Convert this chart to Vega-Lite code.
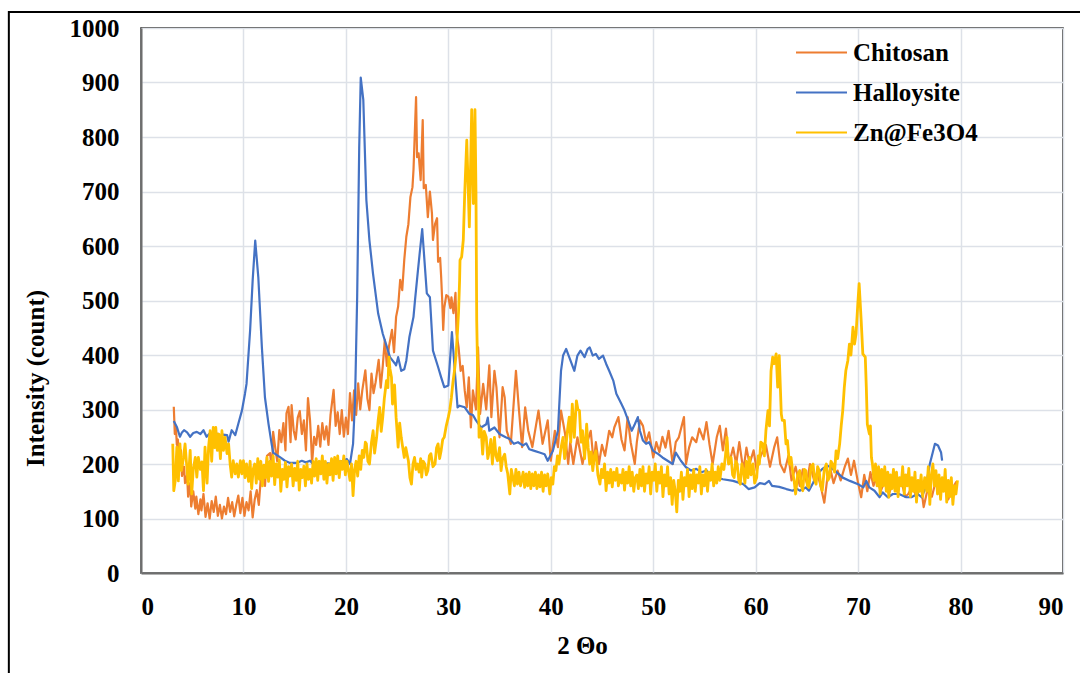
{
  "$schema": "https://vega.github.io/schema/vega-lite/v6.json",
  "width": 922,
  "height": 545,
  "autosize": {"type": "none"},
  "padding": {"left": 141, "top": 28, "right": 17, "bottom": 100},
  "background": "white",
  "config": {
    "view": {"stroke": "#1a1a1a", "strokeWidth": 1.5},
    "font": "Liberation Serif",
    "axis": {
      "grid": true,
      "gridColor": "#dde1e8",
      "gridWidth": 1.5,
      "ticks": false,
      "domainColor": "#6e6e6e",
      "domainWidth": 2,
      "labelFont": "Liberation Serif",
      "labelFontSize": 25,
      "labelFontWeight": "bold",
      "labelColor": "#000000",
      "titleFont": "Liberation Serif",
      "titleFontSize": 25,
      "titleFontWeight": "bold",
      "titleColor": "#000000"
    },
    "legend": {
      "labelFont": "Liberation Serif",
      "labelFontSize": 25,
      "labelFontWeight": "bold",
      "labelColor": "#000000"
    }
  },
  "datasets": {
    "chitosan": [
      {"x":3.2,"y":305},{"x":3.3,"y":255},{"x":3.4,"y":270},{"x":3.5,"y":235},{"x":3.6,"y":245},{"x":3.7,"y":212},{"x":3.9,"y":225},{"x":4.0,"y":178},{"x":4.2,"y":195},{"x":4.3,"y":165},{"x":4.5,"y":180},{"x":4.6,"y":140},{"x":4.8,"y":165},{"x":4.9,"y":122},{"x":5.1,"y":150},{"x":5.3,"y":118},{"x":5.4,"y":140},{"x":5.6,"y":108},{"x":5.8,"y":135},{"x":5.9,"y":115},{"x":6.1,"y":145},{"x":6.3,"y":103},{"x":6.5,"y":128},{"x":6.7,"y":100},{"x":6.9,"y":132},{"x":7.1,"y":112},{"x":7.3,"y":140},{"x":7.5,"y":105},{"x":7.7,"y":125},{"x":7.9,"y":100},{"x":8.1,"y":122},{"x":8.3,"y":108},{"x":8.5,"y":138},{"x":8.7,"y":112},{"x":8.9,"y":130},{"x":9.1,"y":104},{"x":9.3,"y":125},{"x":9.5,"y":142},{"x":9.7,"y":110},{"x":9.9,"y":138},{"x":10.1,"y":105},{"x":10.3,"y":130},{"x":10.5,"y":115},{"x":10.7,"y":150},{"x":10.9,"y":102},{"x":11.1,"y":135},{"x":11.3,"y":152},{"x":11.5,"y":125},{"x":11.7,"y":175},{"x":11.9,"y":189},{"x":12.1,"y":160},{"x":12.3,"y":215},{"x":12.6,"y":220},{"x":12.8,"y":185},{"x":12.9,"y":259},{"x":13.1,"y":230},{"x":13.3,"y":205},{"x":13.5,"y":262},{"x":13.7,"y":240},{"x":13.9,"y":275},{"x":14.1,"y":225},{"x":14.2,"y":293},{"x":14.4,"y":305},{"x":14.6,"y":240},{"x":14.7,"y":308},{"x":14.9,"y":262},{"x":15.1,"y":245},{"x":15.3,"y":285},{"x":15.5,"y":297},{"x":15.7,"y":255},{"x":15.9,"y":280},{"x":16.1,"y":225},{"x":16.3,"y":321},{"x":16.5,"y":280},{"x":16.6,"y":244},{"x":16.7,"y":202},{"x":16.9,"y":250},{"x":17.1,"y":235},{"x":17.3,"y":270},{"x":17.5,"y":232},{"x":17.7,"y":275},{"x":17.9,"y":245},{"x":18.1,"y":269},{"x":18.3,"y":235},{"x":18.5,"y":290},{"x":18.8,"y":336},{"x":19.0,"y":270},{"x":19.2,"y":295},{"x":19.4,"y":255},{"x":19.6,"y":299},{"x":19.8,"y":250},{"x":20.0,"y":285},{"x":20.2,"y":255},{"x":20.4,"y":330},{"x":20.6,"y":280},{"x":20.8,"y":335},{"x":21.0,"y":290},{"x":21.2,"y":348},{"x":21.4,"y":300},{"x":21.6,"y":335},{"x":21.9,"y":372},{"x":22.1,"y":320},{"x":22.3,"y":299},{"x":22.5,"y":366},{"x":22.7,"y":330},{"x":22.9,"y":350},{"x":23.2,"y":391},{"x":23.4,"y":340},{"x":23.6,"y":380},{"x":23.8,"y":428},{"x":24.0,"y":380},{"x":24.2,"y":415},{"x":24.5,"y":446},{"x":24.7,"y":405},{"x":24.9,"y":470},{"x":25.1,"y":489},{"x":25.3,"y":538},{"x":25.5,"y":519},{"x":25.7,"y":575},{"x":25.9,"y":617},{"x":26.1,"y":640},{"x":26.3,"y":690},{"x":26.5,"y":708},{"x":26.6,"y":740},{"x":26.85,"y":873},{"x":26.95,"y":763},{"x":27.1,"y":770},{"x":27.3,"y":721},{"x":27.5,"y":831},{"x":27.6,"y":706},{"x":27.8,"y":712},{"x":28.0,"y":653},{"x":28.2,"y":700},{"x":28.4,"y":660},{"x":28.5,"y":611},{"x":28.7,"y":640},{"x":28.9,"y":651},{"x":29.0,"y":571},{"x":29.2,"y":578},{"x":29.3,"y":543},{"x":29.4,"y":501},{"x":29.5,"y":446},{"x":29.6,"y":486},{"x":29.8,"y":510},{"x":30.0,"y":507},{"x":30.2,"y":486},{"x":30.3,"y":506},{"x":30.5,"y":477},{"x":30.7,"y":514},{"x":30.8,"y":440},{"x":31.0,"y":414},{"x":31.2,"y":371},{"x":31.4,"y":380},{"x":31.6,"y":335},{"x":31.8,"y":304},{"x":32.0,"y":359},{"x":32.2,"y":267},{"x":32.4,"y":335},{"x":32.7,"y":300},{"x":32.9,"y":414},{"x":33.1,"y":292},{"x":33.4,"y":347},{"x":33.7,"y":300},{"x":34.0,"y":381},{"x":34.2,"y":286},{"x":34.5,"y":371},{"x":34.7,"y":340},{"x":35.0,"y":249},{"x":35.3,"y":341},{"x":35.5,"y":322},{"x":35.7,"y":261},{"x":36.1,"y":237},{"x":36.6,"y":371},{"x":36.9,"y":298},{"x":37.2,"y":231},{"x":37.5,"y":304},{"x":37.8,"y":261},{"x":38.2,"y":231},{"x":38.8,"y":298},{"x":39.2,"y":237},{"x":39.7,"y":280},{"x":40.0,"y":206},{"x":40.4,"y":261},{"x":40.7,"y":231},{"x":41.0,"y":298},{"x":41.4,"y":255},{"x":41.7,"y":200},{"x":41.9,"y":240},{"x":42.2,"y":200},{"x":42.6,"y":249},{"x":43.1,"y":200},{"x":43.4,"y":230},{"x":43.9,"y":261},{"x":44.2,"y":200},{"x":44.4,"y":240},{"x":44.7,"y":200},{"x":45.0,"y":235},{"x":45.3,"y":215},{"x":45.7,"y":261},{"x":46.0,"y":249},{"x":46.2,"y":267},{"x":46.6,"y":286},{"x":46.9,"y":245},{"x":47.2,"y":225},{"x":47.5,"y":286},{"x":47.8,"y":240},{"x":48.2,"y":200},{"x":48.4,"y":240},{"x":48.7,"y":280},{"x":49.0,"y":270},{"x":49.3,"y":240},{"x":49.6,"y":258},{"x":50.0,"y":212},{"x":50.3,"y":240},{"x":50.6,"y":222},{"x":50.9,"y":250},{"x":51.2,"y":230},{"x":51.5,"y":261},{"x":51.9,"y":200},{"x":52.2,"y":240},{"x":52.5,"y":249},{"x":53.0,"y":286},{"x":53.2,"y":200},{"x":53.5,"y":230},{"x":53.8,"y":249},{"x":54.2,"y":240},{"x":54.5,"y":265},{"x":54.9,"y":245},{"x":55.2,"y":277},{"x":55.5,"y":235},{"x":55.8,"y":200},{"x":56.2,"y":249},{"x":56.5,"y":270},{"x":56.8,"y":225},{"x":57.1,"y":265},{"x":57.4,"y":200},{"x":57.8,"y":230},{"x":58.1,"y":200},{"x":58.4,"y":240},{"x":58.8,"y":188},{"x":59.1,"y":230},{"x":59.4,"y":200},{"x":59.8,"y":225},{"x":60.1,"y":188},{"x":60.5,"y":215},{"x":61.0,"y":235},{"x":61.4,"y":195},{"x":61.8,"y":230},{"x":62.1,"y":249},{"x":62.4,"y":200},{"x":62.8,"y":185},{"x":63.2,"y":215},{"x":63.5,"y":170},{"x":63.9,"y":195},{"x":64.3,"y":160},{"x":64.6,"y":190},{"x":65.0,"y":165},{"x":65.3,"y":200},{"x":65.7,"y":170},{"x":66.0,"y":185},{"x":66.4,"y":155},{"x":66.7,"y":129},{"x":67.0,"y":175},{"x":67.3,"y":190},{"x":67.6,"y":165},{"x":68.0,"y":188},{"x":68.3,"y":170},{"x":68.7,"y":195},{"x":69.0,"y":210},{"x":69.3,"y":180},{"x":69.6,"y":206},{"x":70.0,"y":165},{"x":70.3,"y":139},{"x":70.6,"y":180},{"x":70.9,"y":150},{"x":71.2,"y":185},{"x":71.5,"y":160},{"x":71.8,"y":175},{"x":72.2,"y":150},{"x":72.6,"y":170},{"x":73.0,"y":145},{"x":73.4,"y":165},{"x":73.8,"y":150},{"x":74.2,"y":170},{"x":74.6,"y":140},{"x":74.9,"y":145},{"x":75.3,"y":160},{"x":75.7,"y":140},{"x":76.1,"y":165},{"x":76.4,"y":121},{"x":76.8,"y":155},{"x":77.2,"y":140},{"x":77.6,"y":170},{"x":78.0,"y":145},{"x":78.4,"y":160},{"x":78.8,"y":135},{"x":79.2,"y":155},{"x":79.6,"y":168}
    ],
    "halloysite": [
      {"x":3.2,"y":279},{"x":3.5,"y":268},{"x":3.8,"y":250},{"x":4.0,"y":258},{"x":4.2,"y":262},{"x":4.5,"y":258},{"x":4.8,"y":250},{"x":5.1,"y":257},{"x":5.45,"y":259},{"x":5.8,"y":255},{"x":6.1,"y":262},{"x":6.4,"y":250},{"x":6.7,"y":256},{"x":7.1,"y":252},{"x":7.4,"y":256},{"x":7.7,"y":250},{"x":8.0,"y":254},{"x":8.4,"y":253},{"x":8.55,"y":241},{"x":8.85,"y":262},{"x":9.2,"y":253},{"x":9.5,"y":274},{"x":9.85,"y":298},{"x":10.15,"y":329},{"x":10.3,"y":347},{"x":10.65,"y":445},{"x":10.9,"y":537},{"x":11.15,"y":610},{"x":11.45,"y":543},{"x":11.8,"y":414},{"x":12.1,"y":322},{"x":12.45,"y":273},{"x":12.75,"y":237},{"x":12.9,"y":221},{"x":13.6,"y":212},{"x":14.05,"y":206},{"x":14.55,"y":202},{"x":15.2,"y":202},{"x":15.7,"y":206},{"x":16.1,"y":203},{"x":16.5,"y":206},{"x":16.8,"y":200},{"x":17.2,"y":203},{"x":17.6,"y":197},{"x":18.2,"y":201},{"x":18.8,"y":200},{"x":19.1,"y":209},{"x":19.4,"y":203},{"x":19.7,"y":206},{"x":20.1,"y":209},{"x":20.4,"y":200},{"x":20.7,"y":237},{"x":20.9,"y":322},{"x":21.1,"y":506},{"x":21.3,"y":780},{"x":21.45,"y":909},{"x":21.7,"y":868},{"x":22.0,"y":684},{"x":22.3,"y":610},{"x":22.65,"y":549},{"x":23.15,"y":476},{"x":23.6,"y":439},{"x":24.0,"y":415},{"x":24.3,"y":396},{"x":24.8,"y":384},{"x":24.9,"y":381},{"x":25.1,"y":396},{"x":25.4,"y":371},{"x":25.7,"y":374},{"x":25.9,"y":390},{"x":26.2,"y":433},{"x":26.6,"y":470},{"x":26.75,"y":501},{"x":27.0,"y":549},{"x":27.2,"y":586},{"x":27.45,"y":631},{"x":27.9,"y":513},{"x":28.2,"y":506},{"x":28.5,"y":408},{"x":29.0,"y":378},{"x":29.3,"y":359},{"x":29.6,"y":341},{"x":30.0,"y":344},{"x":30.35,"y":442},{"x":30.9,"y":304},{"x":31.1,"y":307},{"x":31.6,"y":304},{"x":32.05,"y":292},{"x":32.4,"y":290},{"x":32.7,"y":280},{"x":33.2,"y":267},{"x":33.7,"y":273},{"x":33.85,"y":285},{"x":34.0,"y":261},{"x":34.5,"y":267},{"x":35.0,"y":255},{"x":35.6,"y":249},{"x":36.0,"y":246},{"x":36.4,"y":237},{"x":36.8,"y":240},{"x":37.3,"y":234},{"x":37.6,"y":238},{"x":37.9,"y":227},{"x":38.4,"y":224},{"x":38.9,"y":221},{"x":39.4,"y":218},{"x":39.7,"y":206},{"x":40.2,"y":224},{"x":40.7,"y":261},{"x":41.0,"y":371},{"x":41.2,"y":399},{"x":41.5,"y":411},{"x":41.8,"y":396},{"x":42.3,"y":371},{"x":42.6,"y":399},{"x":42.9,"y":408},{"x":43.3,"y":396},{"x":43.6,"y":411},{"x":43.8,"y":414},{"x":44.1,"y":399},{"x":44.4,"y":402},{"x":44.7,"y":393},{"x":45.1,"y":399},{"x":45.4,"y":384},{"x":45.7,"y":371},{"x":46.1,"y":353},{"x":46.4,"y":329},{"x":46.9,"y":310},{"x":47.2,"y":298},{"x":47.5,"y":283},{"x":47.9,"y":261},{"x":48.2,"y":273},{"x":48.5,"y":286},{"x":48.7,"y":261},{"x":49.0,"y":243},{"x":49.3,"y":237},{"x":49.6,"y":240},{"x":50.0,"y":224},{"x":50.5,"y":218},{"x":50.9,"y":212},{"x":51.4,"y":206},{"x":51.9,"y":200},{"x":52.2,"y":221},{"x":52.7,"y":206},{"x":53.2,"y":194},{"x":53.7,"y":188},{"x":54.2,"y":191},{"x":54.7,"y":185},{"x":55.2,"y":188},{"x":55.7,"y":178},{"x":56.2,"y":175},{"x":56.8,"y":172},{"x":57.8,"y":169},{"x":58.8,"y":163},{"x":59.3,"y":154},{"x":59.9,"y":157},{"x":60.4,"y":165},{"x":60.9,"y":163},{"x":61.3,"y":169},{"x":61.6,"y":160},{"x":62.3,"y":158},{"x":63.0,"y":154},{"x":63.6,"y":151},{"x":64.0,"y":155},{"x":64.3,"y":151},{"x":64.9,"y":157},{"x":65.2,"y":151},{"x":65.6,"y":165},{"x":66.0,"y":181},{"x":66.5,"y":191},{"x":67.0,"y":197},{"x":67.3,"y":194},{"x":67.9,"y":185},{"x":68.5,"y":175},{"x":69.2,"y":169},{"x":70.0,"y":163},{"x":70.5,"y":157},{"x":70.8,"y":169},{"x":71.1,"y":157},{"x":71.6,"y":151},{"x":72.1,"y":139},{"x":72.4,"y":148},{"x":72.9,"y":139},{"x":73.4,"y":145},{"x":74.0,"y":145},{"x":74.7,"y":139},{"x":75.2,"y":139},{"x":75.8,"y":145},{"x":76.2,"y":139},{"x":76.6,"y":157},{"x":77.0,"y":200},{"x":77.5,"y":237},{"x":77.8,"y":234},{"x":78.1,"y":221},{"x":78.2,"y":206}
    ],
    "znfe3o4": [
      {"x":3.1,"y":237},{"x":3.2,"y":151},{"x":3.35,"y":170},{"x":3.5,"y":231},{"x":3.65,"y":169},{"x":3.8,"y":237},{"x":3.95,"y":188},{"x":4.15,"y":212},{"x":4.3,"y":237},{"x":4.45,"y":200},{"x":4.6,"y":163},{"x":4.8,"y":225},{"x":4.95,"y":145},{"x":5.1,"y":190},{"x":5.3,"y":212},{"x":5.45,"y":176},{"x":5.6,"y":212},{"x":5.8,"y":190},{"x":5.95,"y":204},{"x":6.1,"y":151},{"x":6.25,"y":231},{"x":6.45,"y":165},{"x":6.6,"y":232},{"x":6.75,"y":261},{"x":6.9,"y":205},{"x":7.05,"y":267},{"x":7.2,"y":230},{"x":7.3,"y":267},{"x":7.45,"y":225},{"x":7.6,"y":255},{"x":7.75,"y":210},{"x":7.9,"y":261},{"x":8.05,"y":225},{"x":8.2,"y":249},{"x":8.4,"y":219},{"x":8.55,"y":237},{"x":8.7,"y":200},{"x":8.85,"y":176},{"x":9.0,"y":206},{"x":9.2,"y":182},{"x":9.35,"y":200},{"x":9.5,"y":176},{"x":9.7,"y":206},{"x":9.85,"y":182},{"x":10.0,"y":206},{"x":10.15,"y":175},{"x":10.3,"y":200},{"x":10.5,"y":168},{"x":10.65,"y":205},{"x":10.8,"y":155},{"x":10.95,"y":190},{"x":11.1,"y":200},{"x":11.25,"y":165},{"x":11.4,"y":210},{"x":11.55,"y":172},{"x":11.7,"y":205},{"x":11.85,"y":160},{"x":12.0,"y":198},{"x":12.15,"y":175},{"x":12.3,"y":212},{"x":12.45,"y":168},{"x":12.6,"y":205},{"x":12.75,"y":178},{"x":12.9,"y":215},{"x":13.05,"y":162},{"x":13.2,"y":200},{"x":13.35,"y":176},{"x":13.5,"y":208},{"x":13.65,"y":150},{"x":13.8,"y":190},{"x":13.95,"y":172},{"x":14.1,"y":203},{"x":14.25,"y":158},{"x":14.4,"y":195},{"x":14.55,"y":178},{"x":14.7,"y":200},{"x":14.85,"y":160},{"x":15.0,"y":192},{"x":15.15,"y":170},{"x":15.3,"y":205},{"x":15.45,"y":152},{"x":15.6,"y":190},{"x":15.75,"y":175},{"x":15.9,"y":196},{"x":16.05,"y":160},{"x":16.2,"y":200},{"x":16.35,"y":172},{"x":16.5,"y":190},{"x":16.65,"y":165},{"x":16.8,"y":205},{"x":16.95,"y":178},{"x":17.1,"y":210},{"x":17.25,"y":170},{"x":17.4,"y":205},{"x":17.55,"y":182},{"x":17.7,"y":215},{"x":17.85,"y":172},{"x":18.0,"y":205},{"x":18.15,"y":165},{"x":18.3,"y":200},{"x":18.45,"y":180},{"x":18.6,"y":210},{"x":18.75,"y":170},{"x":18.9,"y":212},{"x":19.05,"y":182},{"x":19.2,"y":215},{"x":19.35,"y":175},{"x":19.5,"y":205},{"x":19.65,"y":190},{"x":19.8,"y":215},{"x":19.95,"y":180},{"x":20.1,"y":205},{"x":20.25,"y":188},{"x":20.4,"y":170},{"x":20.55,"y":200},{"x":20.7,"y":142},{"x":20.85,"y":190},{"x":21.0,"y":205},{"x":21.15,"y":178},{"x":21.3,"y":215},{"x":21.45,"y":190},{"x":21.6,"y":225},{"x":21.75,"y":212},{"x":21.9,"y":240},{"x":22.0,"y":237},{"x":22.15,"y":205},{"x":22.3,"y":200},{"x":22.5,"y":240},{"x":22.66,"y":261},{"x":22.8,"y":220},{"x":23.0,"y":249},{"x":23.15,"y":280},{"x":23.3,"y":304},{"x":23.45,"y":260},{"x":23.6,"y":286},{"x":23.75,"y":320},{"x":23.96,"y":353},{"x":24.1,"y":340},{"x":24.2,"y":396},{"x":24.3,"y":375},{"x":24.45,"y":359},{"x":24.55,"y":310},{"x":24.6,"y":322},{"x":24.75,"y":345},{"x":24.9,"y":286},{"x":25.0,"y":260},{"x":25.1,"y":231},{"x":25.25,"y":275},{"x":25.4,"y":249},{"x":25.55,"y":230},{"x":25.7,"y":212},{"x":25.85,"y":230},{"x":26.0,"y":215},{"x":26.1,"y":206},{"x":26.25,"y":175},{"x":26.4,"y":163},{"x":26.55,"y":200},{"x":26.7,"y":212},{"x":26.85,"y":190},{"x":27.0,"y":200},{"x":27.15,"y":185},{"x":27.3,"y":210},{"x":27.4,"y":176},{"x":27.55,"y":205},{"x":27.7,"y":200},{"x":27.85,"y":180},{"x":28.0,"y":188},{"x":28.15,"y":215},{"x":28.3,"y":219},{"x":28.5,"y":195},{"x":28.7,"y":200},{"x":28.85,"y":230},{"x":29.0,"y":237},{"x":29.15,"y":210},{"x":29.3,"y":225},{"x":29.45,"y":245},{"x":29.6,"y":249},{"x":29.8,"y":270},{"x":30.0,"y":286},{"x":30.15,"y":300},{"x":30.3,"y":322},{"x":30.45,"y":350},{"x":30.6,"y":371},{"x":30.75,"y":400},{"x":30.9,"y":445},{"x":31.0,"y":480},{"x":31.1,"y":537},{"x":31.14,"y":574},{"x":31.3,"y":580},{"x":31.46,"y":611},{"x":31.6,"y":697},{"x":31.8,"y":794},{"x":32.05,"y":635},{"x":32.28,"y":850},{"x":32.44,"y":678},{"x":32.6,"y":850},{"x":32.7,"y":697},{"x":32.77,"y":464},{"x":32.85,"y":380},{"x":32.95,"y":322},{"x":33.0,"y":249},{"x":33.2,"y":265},{"x":33.35,"y":218},{"x":33.5,"y":260},{"x":33.7,"y":249},{"x":33.85,"y":210},{"x":34.0,"y":224},{"x":34.15,"y":245},{"x":34.3,"y":200},{"x":34.5,"y":249},{"x":34.65,"y":215},{"x":34.8,"y":206},{"x":35.0,"y":230},{"x":35.15,"y":188},{"x":35.3,"y":210},{"x":35.5,"y":218},{"x":35.65,"y":195},{"x":35.8,"y":182},{"x":36.0,"y":145},{"x":36.15,"y":190},{"x":36.3,"y":175},{"x":36.45,"y":160},{"x":36.6,"y":190},{"x":36.75,"y":163},{"x":36.9,"y":185},{"x":37.05,"y":160},{"x":37.3,"y":185},{"x":37.45,"y":157},{"x":37.6,"y":182},{"x":37.75,"y":160},{"x":37.9,"y":185},{"x":38.05,"y":155},{"x":38.2,"y":182},{"x":38.35,"y":160},{"x":38.5,"y":185},{"x":38.65,"y":155},{"x":38.8,"y":180},{"x":38.95,"y":158},{"x":39.1,"y":185},{"x":39.25,"y":150},{"x":39.4,"y":180},{"x":39.55,"y":160},{"x":39.7,"y":182},{"x":39.9,"y":145},{"x":40.05,"y":175},{"x":40.2,"y":163},{"x":40.35,"y":195},{"x":40.5,"y":188},{"x":40.65,"y":215},{"x":40.8,"y":200},{"x":41.0,"y":230},{"x":41.2,"y":249},{"x":41.35,"y":210},{"x":41.5,"y":237},{"x":41.65,"y":265},{"x":41.8,"y":286},{"x":41.95,"y":240},{"x":42.1,"y":310},{"x":42.3,"y":249},{"x":42.5,"y":316},{"x":42.65,"y":300},{"x":42.8,"y":298},{"x":42.95,"y":240},{"x":43.1,"y":261},{"x":43.3,"y":210},{"x":43.5,"y":273},{"x":43.65,"y":230},{"x":43.8,"y":200},{"x":43.95,"y":222},{"x":44.1,"y":188},{"x":44.25,"y":215},{"x":44.4,"y":224},{"x":44.6,"y":180},{"x":44.8,"y":163},{"x":44.95,"y":190},{"x":45.1,"y":175},{"x":45.25,"y":200},{"x":45.4,"y":151},{"x":45.55,"y":185},{"x":45.7,"y":165},{"x":45.85,"y":190},{"x":46.0,"y":158},{"x":46.15,"y":185},{"x":46.3,"y":170},{"x":46.45,"y":192},{"x":46.6,"y":160},{"x":46.75,"y":180},{"x":46.9,"y":165},{"x":47.05,"y":190},{"x":47.2,"y":152},{"x":47.35,"y":185},{"x":47.5,"y":165},{"x":47.65,"y":195},{"x":47.8,"y":160},{"x":47.95,"y":185},{"x":48.1,"y":150},{"x":48.25,"y":175},{"x":48.4,"y":180},{"x":48.55,"y":155},{"x":48.7,"y":190},{"x":48.85,"y":160},{"x":49.0,"y":195},{"x":49.15,"y":150},{"x":49.3,"y":182},{"x":49.45,"y":165},{"x":49.6,"y":195},{"x":49.75,"y":145},{"x":49.9,"y":185},{"x":50.05,"y":170},{"x":50.2,"y":200},{"x":50.35,"y":150},{"x":50.5,"y":185},{"x":50.65,"y":165},{"x":50.8,"y":195},{"x":50.95,"y":140},{"x":51.1,"y":180},{"x":51.25,"y":160},{"x":51.4,"y":195},{"x":51.55,"y":145},{"x":51.7,"y":175},{"x":51.85,"y":126},{"x":52.0,"y":170},{"x":52.15,"y":150},{"x":52.3,"y":112},{"x":52.45,"y":170},{"x":52.6,"y":150},{"x":52.75,"y":185},{"x":52.9,"y":135},{"x":53.05,"y":175},{"x":53.2,"y":160},{"x":53.35,"y":190},{"x":53.5,"y":140},{"x":53.65,"y":180},{"x":53.8,"y":155},{"x":53.95,"y":190},{"x":54.1,"y":150},{"x":54.25,"y":180},{"x":54.4,"y":165},{"x":54.55,"y":195},{"x":54.7,"y":145},{"x":54.85,"y":180},{"x":55.0,"y":160},{"x":55.15,"y":190},{"x":55.3,"y":150},{"x":55.45,"y":185},{"x":55.6,"y":170},{"x":55.75,"y":200},{"x":55.9,"y":160},{"x":56.05,"y":185},{"x":56.2,"y":165},{"x":56.35,"y":195},{"x":56.5,"y":170},{"x":56.7,"y":200},{"x":56.9,"y":190},{"x":57.05,"y":215},{"x":57.2,"y":249},{"x":57.35,"y":200},{"x":57.6,"y":212},{"x":57.75,"y":180},{"x":57.9,"y":175},{"x":58.05,"y":205},{"x":58.2,"y":200},{"x":58.35,"y":170},{"x":58.5,"y":163},{"x":58.65,"y":200},{"x":58.8,"y":188},{"x":58.95,"y":165},{"x":59.1,"y":205},{"x":59.25,"y":175},{"x":59.4,"y":212},{"x":59.55,"y":180},{"x":59.75,"y":200},{"x":59.9,"y":165},{"x":60.1,"y":175},{"x":60.25,"y":215},{"x":60.36,"y":200},{"x":60.5,"y":240},{"x":60.7,"y":237},{"x":60.85,"y":215},{"x":61.0,"y":261},{"x":61.2,"y":298},{"x":61.35,"y":270},{"x":61.5,"y":371},{"x":61.66,"y":396},{"x":61.8,"y":384},{"x":62.0,"y":402},{"x":62.15,"y":341},{"x":62.3,"y":399},{"x":62.5,"y":292},{"x":62.6,"y":280},{"x":62.8,"y":280},{"x":62.96,"y":237},{"x":63.1,"y":243},{"x":63.3,"y":200},{"x":63.45,"y":212},{"x":63.6,"y":188},{"x":63.75,"y":170},{"x":63.9,"y":145},{"x":64.1,"y":180},{"x":64.3,"y":188},{"x":64.45,"y":160},{"x":64.6,"y":151},{"x":64.75,"y":190},{"x":64.9,"y":188},{"x":65.05,"y":160},{"x":65.2,"y":157},{"x":65.4,"y":195},{"x":65.6,"y":200},{"x":65.75,"y":170},{"x":65.9,"y":163},{"x":66.05,"y":195},{"x":66.2,"y":188},{"x":66.35,"y":160},{"x":66.5,"y":151},{"x":66.7,"y":190},{"x":66.9,"y":200},{"x":67.05,"y":170},{"x":67.2,"y":175},{"x":67.35,"y":205},{"x":67.5,"y":200},{"x":67.7,"y":185},{"x":67.85,"y":224},{"x":68.0,"y":210},{"x":68.2,"y":237},{"x":68.35,"y":270},{"x":68.5,"y":298},{"x":68.65,"y":340},{"x":68.8,"y":371},{"x":69.0,"y":390},{"x":69.15,"y":420},{"x":69.3,"y":400},{"x":69.5,"y":451},{"x":69.65,"y":420},{"x":69.8,"y":439},{"x":69.97,"y":494},{"x":70.1,"y":531},{"x":70.3,"y":463},{"x":70.46,"y":402},{"x":70.7,"y":396},{"x":70.8,"y":341},{"x":70.9,"y":273},{"x":71.1,"y":255},{"x":71.2,"y":270},{"x":71.3,"y":212},{"x":71.4,"y":200},{"x":71.55,"y":170},{"x":71.7,"y":200},{"x":71.85,"y":160},{"x":72.0,"y":195},{"x":72.15,"y":145},{"x":72.3,"y":190},{"x":72.45,"y":160},{"x":72.6,"y":195},{"x":72.75,"y":150},{"x":72.9,"y":185},{"x":73.0,"y":139},{"x":73.15,"y":180},{"x":73.3,"y":155},{"x":73.45,"y":190},{"x":73.6,"y":150},{"x":73.75,"y":185},{"x":73.9,"y":140},{"x":74.05,"y":175},{"x":74.2,"y":160},{"x":74.35,"y":195},{"x":74.5,"y":145},{"x":74.65,"y":180},{"x":74.8,"y":160},{"x":74.95,"y":192},{"x":75.1,"y":140},{"x":75.25,"y":175},{"x":75.4,"y":150},{"x":75.55,"y":185},{"x":75.7,"y":130},{"x":75.85,"y":170},{"x":76.0,"y":150},{"x":76.15,"y":180},{"x":76.3,"y":140},{"x":76.5,"y":175},{"x":76.7,"y":150},{"x":76.85,"y":195},{"x":77.0,"y":126},{"x":77.15,"y":180},{"x":77.3,"y":200},{"x":77.45,"y":160},{"x":77.6,"y":188},{"x":77.75,"y":145},{"x":77.9,"y":180},{"x":78.05,"y":135},{"x":78.2,"y":175},{"x":78.35,"y":150},{"x":78.5,"y":190},{"x":78.65,"y":130},{"x":78.8,"y":170},{"x":78.95,"y":140},{"x":79.1,"y":175},{"x":79.25,"y":126},{"x":79.4,"y":160},{"x":79.55,"y":145},{"x":79.7,"y":170}
    ]
  },
  "encoding": {
    "x": {
      "type": "quantitative",
      "scale": {"domain": [0, 90], "nice": false, "zero": false},
      "axis": {
        "values": [0, 10, 20, 30, 40, 50, 60, 70, 80, 90],
        "format": "d",
        "title": "2 Θo",
        "labelPadding": 21,
        "titleX": 441,
        "titleY": 72,
        "titleBaseline": "middle",
        "titleAnchor": null,
        "titleAlign": "center"
      }
    },
    "y": {
      "type": "quantitative",
      "scale": {"domain": [0, 1000], "nice": false, "zero": false},
      "axis": {
        "values": [0, 100, 200, 300, 400, 500, 600, 700, 800, 900, 1000],
        "format": "d",
        "title": "Intensity (count)",
        "labelPadding": 22,
        "titleAngle": -90,
        "titleX": -106,
        "titleY": 350,
        "titleBaseline": "middle",
        "titleAlign": "center"
      }
    }
  },
  "layer": [
    {
      "data": {"values": [{}]},
      "mark": {"type": "rect", "filled": false, "stroke": "#000000", "strokeWidth": 2, "clip": false},
      "encoding": {
        "x": {"datum": -12.9, "type": "quantitative"},
        "x2": {"datum": 130},
        "y": {"datum": 1029.4, "type": "quantitative"},
        "y2": {"datum": -300}
      }
    },
    {
      "data": {"name": "chitosan"},
      "mark": {"type": "line", "strokeWidth": 2.2, "strokeJoin": "round"},
      "encoding": {
        "x": {"field": "x", "type": "quantitative"},
        "y": {"field": "y", "type": "quantitative"},
        "color": {
          "datum": "Chitosan",
          "type": "nominal",
          "scale": {"domain": ["Chitosan", "Halloysite", "Zn@Fe3O4"], "range": ["#ED7D31", "#4472C4", "#FFC000"]},
          "legend": {
            "title": null,
            "orient": "none",
            "legendX": 654,
            "legendY": -2,
            "padding": 0,
            "symbolType": "stroke",
            "symbolSize": 2601,
            "symbolStrokeWidth": 2,
            "labelOffset": 5,
            "rowPadding": -11
          }
        }
      }
    },
    {
      "data": {"name": "halloysite"},
      "mark": {"type": "line", "strokeWidth": 2.2, "strokeJoin": "round"},
      "encoding": {
        "x": {"field": "x", "type": "quantitative"},
        "y": {"field": "y", "type": "quantitative"},
        "color": {"datum": "Halloysite", "type": "nominal"}
      }
    },
    {
      "data": {"name": "znfe3o4"},
      "mark": {"type": "line", "strokeWidth": 2.8, "strokeJoin": "round"},
      "encoding": {
        "x": {"field": "x", "type": "quantitative"},
        "y": {"field": "y", "type": "quantitative"},
        "color": {"datum": "Zn@Fe3O4", "type": "nominal"}
      }
    }
  ]
}
